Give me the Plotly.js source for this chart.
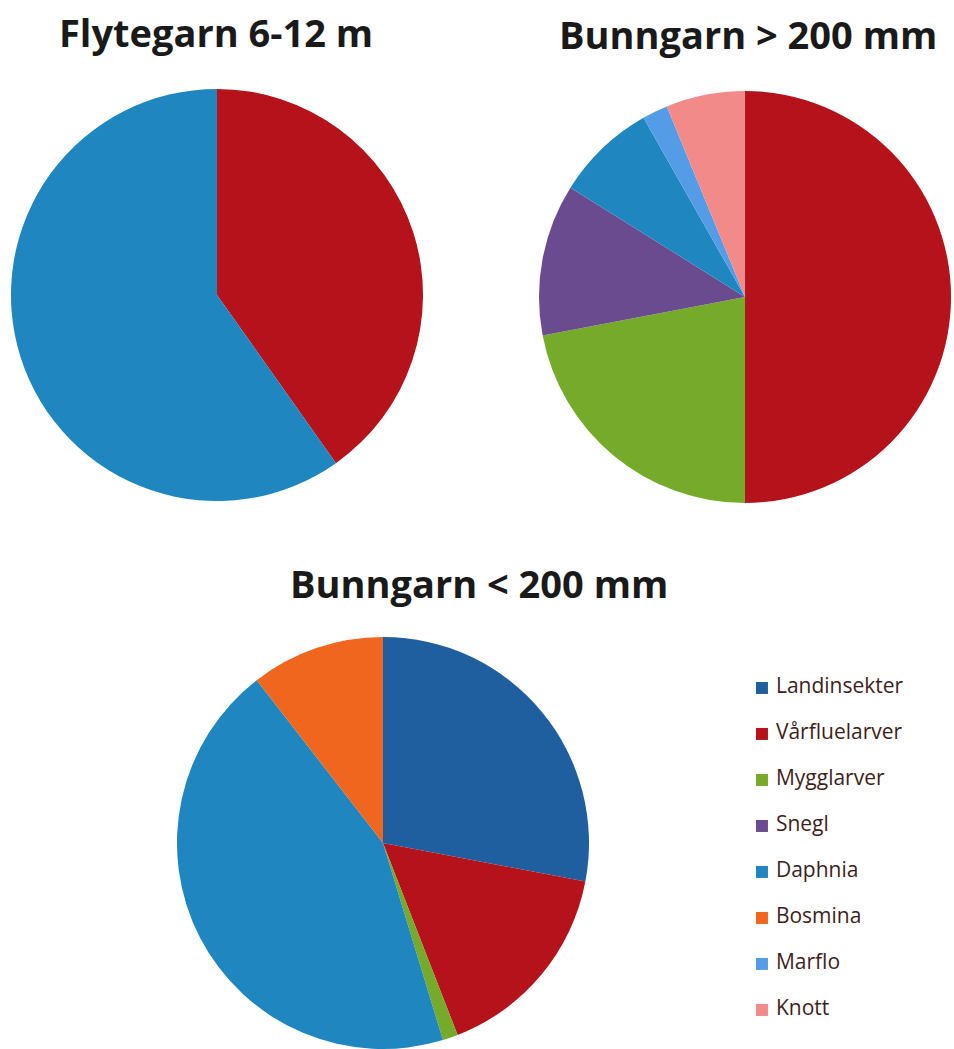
<!DOCTYPE html>
<html>
<head>
<meta charset="utf-8">
<script src="https://cdn.plot.ly/plotly-3.0.1.min.js"></script>
<style>
  html, body { margin: 0; padding: 0; background: #fff; }
  #chart { width: 954px; height: 1049px; }
</style>
</head>
<body>
<div id="chart"></div>
<script>
// Categories (legend order) and their colours
const CATEGORIES = ['Landinsekter', 'Vårfluelarver', 'Mygglarver', 'Snegl', 'Daphnia', 'Bosmina', 'Marflo', 'Knott'];
const CAT_COLORS = ['#1F5FA0', '#B5121B', '#76AA2A', '#6A4B8F', '#1F86C0', '#F0661E', '#559CE6', '#F28A8A'];

// Pie 1: Flytegarn 6-12 m (clockwise from 12 o'clock)
const flyteLabels = ['Vårfluelarver', 'Daphnia'];
const flyteValues = [40.2, 59.8];

// Pie 2: Bunngarn > 200 mm
const bunnStorLabels = ['Vårfluelarver', 'Mygglarver', 'Snegl', 'Daphnia', 'Marflo', 'Knott'];
const bunnStorValues = [50.0, 22.0, 11.9, 7.9, 2.0, 6.2];

// Pie 3: Bunngarn < 200 mm
const bunnSmaLabels = ['Landinsekter', 'Vårfluelarver', 'Mygglarver', 'Daphnia', 'Bosmina'];
const bunnSmaValues = [28.0, 16.1, 1.2, 44.2, 10.5];

const colorOf = label => CAT_COLORS[CATEGORIES.indexOf(label)];

function pieTrace(labels, values, domain) {
    return {
        type: 'pie',
        labels: labels,
        values: values,
        sort: false,
        direction: 'clockwise',
        rotation: 0,
        textinfo: 'none',
        hoverinfo: 'label+percent',
        marker: { colors: labels.map(colorOf), line: { width: 0 } },
        domain: domain,
        showlegend: false
    };
}

// Legend drawn as a small scatter on its own axes so the spacing matches
const legendTrace = {
    type: 'scatter',
    mode: 'markers+text',
    x: CATEGORIES.map(() => 0),
    y: CATEGORIES.map((_, i) => i),
    text: CATEGORIES.map(c => '\u00a0' + c),
    textposition: 'middle right',
    textfont: { family: 'Open Sans, sans-serif', size: 21, color: '#3E1E20' },
    marker: { symbol: 'square', size: 12, color: CAT_COLORS },
    cliponaxis: false,
    hoverinfo: 'skip',
    showlegend: false,
    xaxis: 'x',
    yaxis: 'y'
};

const traces = [
    pieTrace(flyteLabels, flyteValues, { x: [0.0115, 0.4434], y: [0.5224, 0.9152] }),
    pieTrace(bunnStorLabels, bunnStorValues, { x: [0.565, 0.9969], y: [0.5205, 0.9133] }),
    pieTrace(bunnSmaLabels, bunnSmaValues, { x: [0.1855, 0.6174], y: [0.0, 0.3928] }),
    legendTrace
];

const titleFont = { family: 'Open Sans, sans-serif', size: 38, color: '#1a1a1a', weight: 700 };

function titleAnn(text, px, py) {
    return {
        text: '<b>' + text + '</b>',
        x: px / 954, y: 1 - py / 1049,
        xref: 'paper', yref: 'paper',
        xanchor: 'center', yanchor: 'middle',
        showarrow: false, font: titleFont
    };
}

const layout = {
    width: 954,
    height: 1049,
    margin: { l: 0, r: 0, t: 0, b: 0 },
    paper_bgcolor: '#ffffff',
    plot_bgcolor: 'rgba(0,0,0,0)',
    showlegend: false,
    xaxis: { domain: [0.7987, 1], range: [0, 1], visible: false, fixedrange: true },
    yaxis: { domain: [0.0153, 0.3661], range: [7.5, -0.5], visible: false, fixedrange: true },
    annotations: [
        titleAnn('Flytegarn 6-12 m', 216, 32),
        titleAnn('Bunngarn &gt; 200 mm', 748, 34),
        titleAnn('Bunngarn &lt; 200 mm', 479, 583)
    ]
};

Plotly.newPlot('chart', traces, layout, { staticPlot: true });
</script>
</body>
</html>
